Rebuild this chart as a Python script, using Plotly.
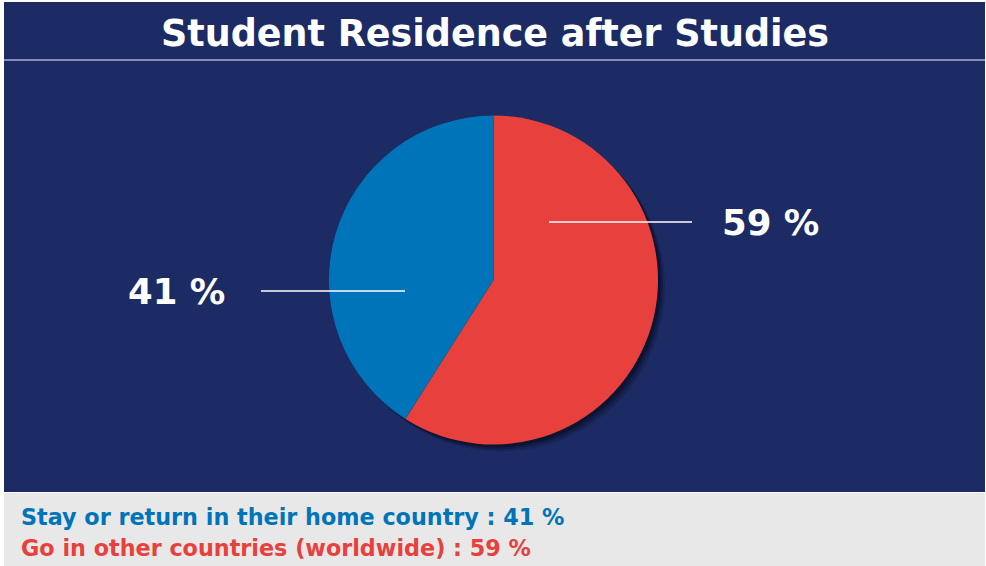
import plotly.graph_objects as go

title = "Student Residence after Studies"
categories = ["Go in other countries (worldwide)", "Stay or return in their home country"]
values = [59, 41]
colors = ["#e8403c", "#0074b8"]
legend_order = [1, 0]

W, H = 986, 566
def px(x): return x / W
def py(y): return 1 - y / H

NAVY = "#1c2b64"

fig = go.Figure()

# pie geometry (pixels)
cx, cy, r = 493.5, 280, 164.5

# soft shadow layers
for off, op in [(7, 0.15), (5, 0.2), (3, 0.3)]:
    fig.add_trace(go.Pie(
        values=[1], marker=dict(colors=[f"rgba(0,0,10,{op})"], line=dict(width=0)),
        textinfo="none", hoverinfo="skip", sort=False, showlegend=False,
        domain=dict(x=[px(cx - r + off), px(cx + r + off)], y=[py(cy + r + off), py(cy - r + off)]),
    ))

fig.add_trace(go.Pie(
    labels=categories, values=values, sort=False, direction="clockwise", rotation=0,
    marker=dict(colors=colors, line=dict(width=0)),
    textinfo="none", showlegend=False,
    domain=dict(x=[px(cx - r), px(cx + r)], y=[py(cy + r), py(cy - r)]),
))

shapes = [
    dict(type="rect", xref="paper", yref="paper", x0=px(4), x1=px(985), y0=py(492), y1=py(2),
         fillcolor=NAVY, line=dict(width=0), layer="below"),
    dict(type="rect", xref="paper", yref="paper", x0=px(4), x1=px(985), y0=py(566), y1=py(493),
         fillcolor="#e8e8e8", line=dict(width=0), layer="below"),
    dict(type="line", xref="paper", yref="paper", x0=px(4), x1=px(985), y0=py(60), y1=py(60),
         line=dict(color="#a9b0cc", width=1.5)),
    # leader lines
    dict(type="line", xref="paper", yref="paper", x0=px(549), x1=px(692), y0=py(222), y1=py(222),
         line=dict(color="white", width=1.5)),
    dict(type="line", xref="paper", yref="paper", x0=px(261), x1=px(405), y0=py(291), y1=py(291),
         line=dict(color="white", width=1.5)),
]

font = "DejaVu Sans, sans-serif"
annotations = [
    dict(text=f"<b>{title}</b>", x=px(495), y=py(34), xref="paper", yref="paper", showarrow=False,
         font=dict(family=font, size=36.5, color="white"), xanchor="center", yanchor="middle"),
    dict(text=f"<b>{values[0]} %</b>", x=px(720), y=py(222), xref="paper", yref="paper", showarrow=False,
         font=dict(family=font, size=35.5, color="white"), xanchor="left", yanchor="middle"),
    dict(text=f"<b>{values[1]} %</b>", x=px(227), y=py(291), xref="paper", yref="paper", showarrow=False,
         font=dict(family=font, size=35.5, color="white"), xanchor="right", yanchor="middle"),
]
for row, i in enumerate(legend_order):
    annotations.append(dict(
        text=f"<b>{categories[i]} : {values[i]} %</b>", x=px(19), y=py(517 + row * 31),
        xref="paper", yref="paper", showarrow=False, xanchor="left", yanchor="middle",
        font=dict(family=font, size=22.3, color=colors[i])))

fig.update_layout(
    width=W, height=H, margin=dict(l=0, r=0, t=0, b=0),
    paper_bgcolor="white", plot_bgcolor="white",
    shapes=shapes, annotations=annotations, showlegend=False,
)
fig.write_html("out.html", config={"displayModeBar": False})
